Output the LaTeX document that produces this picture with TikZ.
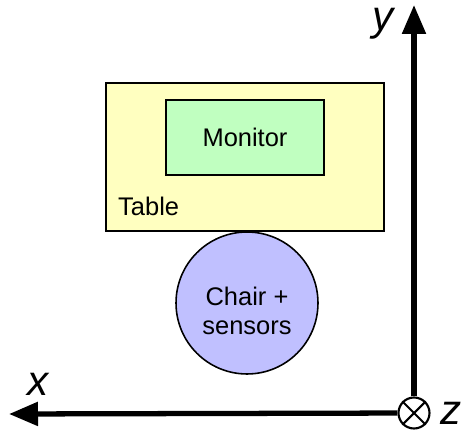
\documentclass[tikz,border=0pt]{standalone}
\usepackage{fontspec}
\setmainfont{Liberation Sans}
\usetikzlibrary{arrows.meta}
\definecolor{tableyellow}{RGB}{255,255,192}
\definecolor{monitorgreen}{RGB}{192,255,192}
\definecolor{chairblue}{RGB}{192,192,255}

\begin{document}
\begin{tikzpicture}[
	x=0.02cm, y=-0.02cm,
	furniture/.style={
		draw,
		line width=0.9pt,
		inner sep=0pt
	},
	axis/.style={
		line width=3pt,
		-{Triangle[length=0.58cm,width=0.46cm]}
	},
	axislabel/.style={
		font=\fontsize{24}{26}\selectfont\itshape
	}]

	\useasboundingbox (0,0) rectangle (466,435);

	% furniture
	\node[furniture, fill=tableyellow, minimum width=5.56cm, minimum height=2.96cm] (table) at (245,157) {};
	\node[furniture, fill=monitorgreen, minimum width=3.16cm, minimum height=1.5cm,
		font=\fontsize{14.5}{17}\selectfont] (monitor) at (245,137.5) {Monitor};
	\node[anchor=south west, font=\fontsize{14.5}{17}\selectfont] (tablelabel) at (112,222) {Table};
	\node[furniture, circle, fill=chairblue, minimum size=2.84cm] (chair) at (247,303) {};
	\node[align=center, font=\fontsize{14.5}{16.5}\selectfont] (chairlabel) at (247,311) {Chair +\\sensors};

	% axes
	\node[draw, circle, line width=1.2pt, minimum size=0.62cm, inner sep=0pt] (origin) at (414,413) {};
	\draw[line width=1.2pt] (origin.45) -- (origin.225);
	\draw[line width=1.2pt] (origin.135) -- (origin.-45);
	\coordinate (ytip) at (414,5);
	\coordinate (xtip) at (9,414);
	\draw[axis] (origin) -- (ytip);
	\draw[axis] (origin) -- (xtip);

	\node[axislabel] (ylabel) at (383,24) {y};
	\node[axislabel] (xlabel) at (38,384) {x};
	\node[axislabel] (zlabel) at (451,413) {z};
\end{tikzpicture}
\end{document}
